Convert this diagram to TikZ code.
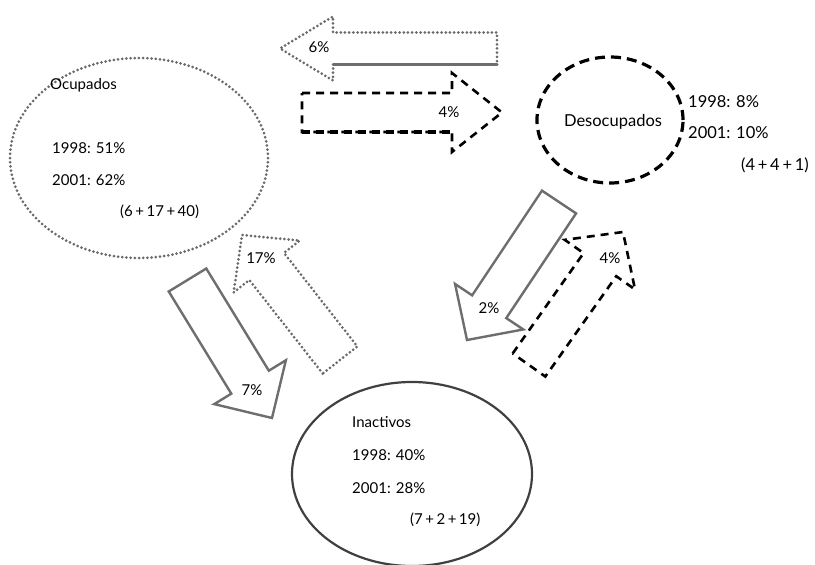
\documentclass[tikz,border=0pt]{standalone}
\usepackage{fontspec}
\setmainfont{Lato}
\usetikzlibrary{calc,shapes.geometric}

\definecolor{dotgray}{HTML}{6A6A6A}
\definecolor{solidgray}{HTML}{6E6E6E}
\definecolor{ringgray}{HTML}{404040}

% Block arrow: #1 style, #2 tail centre, #3 tip, #4 half body width,
% #5 half head width, #6 head length
\newcommand\blockarr[6]{%
  \coordinate (ba-b) at ($(#3)!#6!(#2)$);
  \draw[#1] ($(#2)!#4!90:(#3)$) -- ($(ba-b)!#4!-90:(#2)$)
    -- ($(ba-b)!#5!-90:(#2)$) -- (#3) -- ($(ba-b)!#5!90:(#2)$)
    -- ($(ba-b)!#4!90:(#2)$) -- ($(#2)!#4!-90:(#3)$) -- cycle;}

\tikzset{
  dotline/.style={draw=dotgray, line width=3pt, line cap=round,
    dash pattern=on 0pt off 4.2pt},
  dashline/.style={draw=black, line width=2.6pt,
    dash pattern=on 8pt off 6pt},
  solidline/.style={draw=solidgray, line width=2.4pt, line join=miter},
  txt/.style={font=\fontsize{15}{17}\selectfont, inner sep=0pt, anchor=west},
  bigtxt/.style={font=\fontsize{16.5}{18}\selectfont, inner sep=0pt, anchor=west},
  lbl/.style={font=\fontsize{15}{17}\selectfont, inner sep=0pt},
}

\begin{document}
\begin{tikzpicture}[x=1pt, y=-1pt]
\useasboundingbox (0,0) rectangle (815,565);

% states
\node[ellipse, dotline, minimum width=258pt, minimum height=200pt] (ocup) at (139,158) {};
\node[ellipse, dashline, line width=3.2pt, dash pattern=on 10pt off 6pt,
      minimum width=146pt, minimum height=126pt] (desoc) at (610,120) {};
\node[ellipse, draw=ringgray, line width=2.2pt,
      minimum width=240pt, minimum height=184pt] (inact) at (412,474) {};

% Ocupados
\node[txt] (ocup-t) at (50,85) {Ocupados};
\node[txt] (ocup-a) at (52,148) {1998: 51\%};
\node[txt] (ocup-b) at (52,180) {2001: 62\%};
\node[txt] (ocup-c) at (120,212) {(6{\,}+{\,}17{\,}+{\,}40)};

% Desocupados
\node[bigtxt, anchor=center] (desoc-t) at (613,122) {Desocupados};
\node[bigtxt] (desoc-a) at (688,102) {1998: 8\%};
\node[bigtxt] (desoc-b) at (688,133) {2001: 10\%};
\node[bigtxt] (desoc-c) at (741,165) {(4{\,}+{\,}4{\,}+{\,}1)};

% Inactivos
\node[txt] (inact-t) at (352,422) {Inactivos};
\node[txt] (inact-a) at (352,455) {1998: 40\%};
\node[txt] (inact-b) at (352,488) {2001: 28\%};
\node[txt] (inact-c) at (410,520) {(7{\,}+{\,}2{\,}+{\,}19)};

% flow ends
\coordinate (s6) at (497,48.5);  \coordinate (t6) at (280,48.5);
\coordinate (s4a) at (302,112.5); \coordinate (t4a) at (502,112.5);
\coordinate (s17) at (340,360);   \coordinate (t17) at (242,235);
\coordinate (s7) at (187.5,280);  \coordinate (t7) at (272,418);
\coordinate (s2) at (559,202);    \coordinate (t2) at (467,340);
\coordinate (s4b) at (529,365);   \coordinate (t4b) at (623,232);

% Desocupados -> Ocupados
\blockarr{dotline}{s6}{t6}{16pt}{32pt}{53pt}
\draw[solidgray, line width=3.2pt] ($(s6)!16pt!90:(t6)$) -- ($(ba-b)!16pt!-90:(s6)$);
\node[lbl] (l6) at (319,47) {6\%};

% Ocupados -> Desocupados
\blockarr{dashline}{s4a}{t4a}{19.5pt}{39.5pt}{50pt}
\draw[dashline, line width=4pt] ($(s4a)!19.5pt!-90:(t4a)$) -- ($(ba-b)!19.5pt!90:(s4a)$);
\node[lbl] (l4a) at (449,112) {4\%};

% Inactivos -> Ocupados
\blockarr{dotline}{s17}{t17}{22pt}{42pt}{40pt}
\node[lbl] (l17) at (261,258) {17\%};

% Ocupados -> Inactivos
\blockarr{solidline}{s7}{t7}{22pt}{42pt}{42pt}
\node[lbl] (l7) at (252,390) {7\%};

% Desocupados -> Inactivos
\blockarr{solidline}{s2}{t2}{20.5pt}{41pt}{40pt}
\node[lbl] (l2) at (489,308) {2\%};

% Inactivos -> Desocupados
\blockarr{dashline}{s4b}{t4b}{20pt}{43pt}{40pt}
\node[lbl] (l4b) at (610,258) {4\%};
\end{tikzpicture}
\end{document}
